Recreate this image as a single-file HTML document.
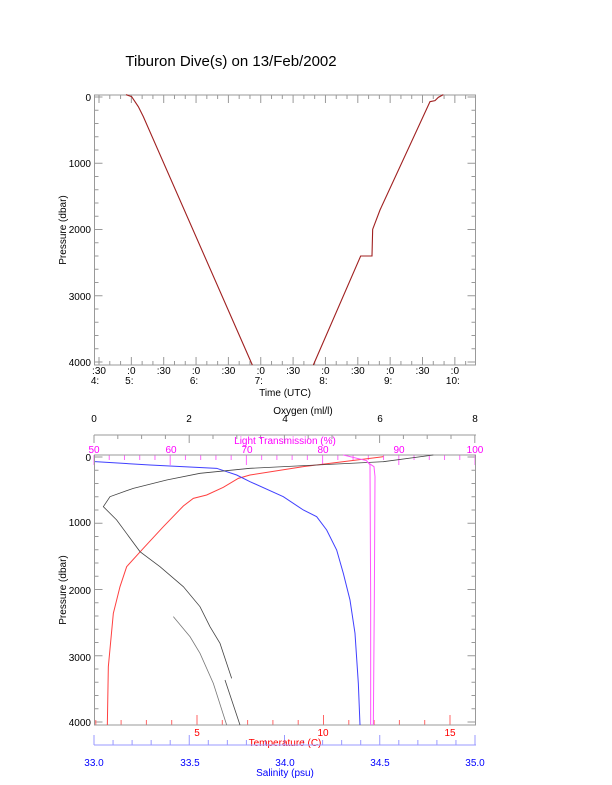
<!DOCTYPE html>
<html><head><meta charset="utf-8"><style>
html,body{margin:0;padding:0;background:#fff;}
svg{display:block;font-family:"Liberation Sans",sans-serif;}
</style></head><body>
<svg id="s" width="612" height="785" viewBox="0 0 612 785" xmlns="http://www.w3.org/2000/svg">
<rect width="612" height="785" fill="#fff"/>
<text x="231" y="66" font-size="15" text-anchor="middle">Tiburon Dive(s) on 13/Feb/2002</text>
<!-- top plot -->
<rect x="94.5" y="95" width="381" height="270" fill="none" stroke="#999" stroke-width="1"/>
<g id="topticks" stroke="#999" stroke-width="1"></g>
<g font-size="10" text-anchor="end">
<text x="91" y="101">0</text><text x="91" y="167">1000</text><text x="91" y="233">2000</text><text x="91" y="300">3000</text><text x="91" y="366">4000</text>
</g>
<text transform="translate(66,230) rotate(-90)" font-size="10" text-anchor="middle">Pressure (dbar)</text>
<g font-size="10" text-anchor="middle" id="timelabels"></g>
<text x="285" y="396" font-size="10" text-anchor="middle">Time (UTC)</text>
<g transform="translate(50,80) scale(0.33333)" fill="none" stroke-width="1.1" vector-effect="non-scaling-stroke">
<polyline vector-effect="non-scaling-stroke" stroke="#a02020" points="228,44 245,50 265,80 280,110 607,855"/>
<polyline vector-effect="non-scaling-stroke" stroke="#a02020" points="790,855 932,528 966,528 968,448 990,390 1140,65 1155,62 1165,52 1180,44"/>
</g>
<!-- bottom plot -->
<line x1="94" y1="435" x2="476" y2="435" stroke="#999"/>
<g id="botticks" stroke-width="1"></g>
<rect x="94.5" y="455" width="381" height="270" fill="none" stroke="#999" stroke-width="1"/>
<g font-size="10" text-anchor="middle">
<text x="94" y="422">0</text><text x="189" y="422">2</text><text x="285" y="422">4</text><text x="380" y="422">6</text><text x="475" y="422">8</text>
<text x="303" y="414">Oxygen (ml/l)</text>
</g>
<g font-size="10" text-anchor="middle" fill="#ff00ff">
<text x="94" y="453">50</text><text x="171" y="453">60</text><text x="247" y="453">70</text><text x="323" y="453">80</text><text x="399" y="453">90</text><text x="475" y="453">100</text>
<text x="285" y="444">Light Transmission (%)</text>
</g>
<g font-size="10" text-anchor="end">
<text x="91" y="461">0</text><text x="91" y="526">1000</text><text x="91" y="594">2000</text><text x="91" y="661">3000</text><text x="91" y="726">4000</text>
</g>
<text transform="translate(66,590) rotate(-90)" font-size="10" text-anchor="middle">Pressure (dbar)</text>
<g font-size="10" text-anchor="middle" fill="#ff0000">
<text x="197" y="736">5</text><text x="323" y="736">10</text><text x="450" y="736">15</text>
<text x="285" y="746">Temperature (C)</text>
</g>
<line x1="94" y1="745" x2="476" y2="745" stroke="#9999ff"/>
<g font-size="10" text-anchor="middle" fill="#0000ff">
<text x="94" y="766">33.0</text><text x="190" y="766">33.5</text><text x="285" y="766">34.0</text><text x="380" y="766">34.5</text><text x="475" y="766">35.0</text>
<text x="285" y="776">Salinity (psu)</text>
</g>
<g transform="translate(50,400) scale(0.33333)" fill="none">
<polyline vector-effect="non-scaling-stroke" stroke="#ff4040" stroke-width="1" points="1000,170 760,200 600,225 565,235 520,262 470,285 430,295 400,318 340,380 280,445 230,500 210,560 190,640 175,800 172,975"/>
<polyline vector-effect="non-scaling-stroke" stroke="#4040ff" stroke-width="1" points="135,185 300,195 500,205 560,225 600,245 700,290 760,330 800,350 830,390 860,450 880,520 900,600 915,700 925,850 930,975"/>
<polyline vector-effect="non-scaling-stroke" stroke="#444" stroke-width="0.8" points="1150,165 1000,185 800,195 600,205 450,220 350,240 250,265 180,290 160,320 200,360 270,455 330,500 400,560 450,620 480,680 510,730 545,835"/>
<polyline vector-effect="non-scaling-stroke" stroke="#444" stroke-width="0.8" points="525,840 545,900 570,975"/>
<polyline vector-effect="non-scaling-stroke" stroke="#777" stroke-width="0.8" points="370,650 420,710 450,760 490,850 530,975"/>
<polyline vector-effect="non-scaling-stroke" stroke="#ff55ff" stroke-width="1" points="880,165 950,182 960,195 962,600 962,975"/>
<polyline vector-effect="non-scaling-stroke" stroke="#ff55ff" stroke-width="1" points="950,185 972,200 975,230 973,600 970,975"/>
</g>
</svg>
<script>
var NS="http://www.w3.org/2000/svg",s=document.getElementById('s');
function L(g,x1,y1,x2,y2,c){var l=document.createElementNS(NS,'line');l.setAttribute('x1',x1);l.setAttribute('y1',y1);l.setAttribute('x2',x2);l.setAttribute('y2',y2);if(c)l.setAttribute('stroke',c);g.appendChild(l);}
function T(g,x,y,t){var e=document.createElementNS(NS,'text');e.setAttribute('x',x);e.setAttribute('y',y);e.textContent=t;g.appendChild(e);}
var tt=document.getElementById('topticks');
for(var p=0;p<=4000;p+=200){var y=97+p*0.06625,len=(p%1000==0)?8:4;L(tt,94.5,y,94.5+len,y);L(tt,475.5,y,475.5-len,y);}
for(var m=0;m<=340;m+=10){var x=99+m*64.7/60;if(x>475)break;var len=(m%30==0)?8:4;L(tt,x,365,x,365-len);L(tt,x,95,x,95+len);}
var tl=document.getElementById('timelabels');
for(var i=0;i<12;i++){var x=99+i*32.35,h=4.5+i*0.5;T(tl,x,374,(i%2==0)?':30':':0');if(i%2==1)T(tl,x-2,384,Math.floor(h)+':');}
T(tl,99-4,384,'4:');
var bt=document.getElementById('botticks');
for(var p=0;p<=4000;p+=200){var y=457+p*0.06625,len=(p%1000==0)?8:4;L(bt,94.5,y,94.5+len,y,'#999');L(bt,475.5,y,475.5-len,y,'#999');}
for(var o=0;o<=8;o+=0.5){var x=94+o*47.6;L(bt,x,435,x,435+((o%2==0)?8:4),'#999');}
for(var lt=50;lt<=100;lt+=2){var x=94+(lt-50)*7.62;L(bt,x,455,x,455+((lt%10==0)?10:5),'#ff66ff');}
for(var t=1;t<=16;t+=1){var x=70.5+t*25.3;if(x<95||x>475)continue;L(bt,x,725,x,725-((t%5==0)?10:5),'#ff6666');}
for(var sa=33;sa<=35.001;sa+=0.1){var x=94+(sa-33)*190.5;var maj=Math.abs(sa*2-Math.round(sa*2))<0.01;L(bt,x,745,x,745-(maj?10:5),'#9999ff');}
</script>
</body></html>
